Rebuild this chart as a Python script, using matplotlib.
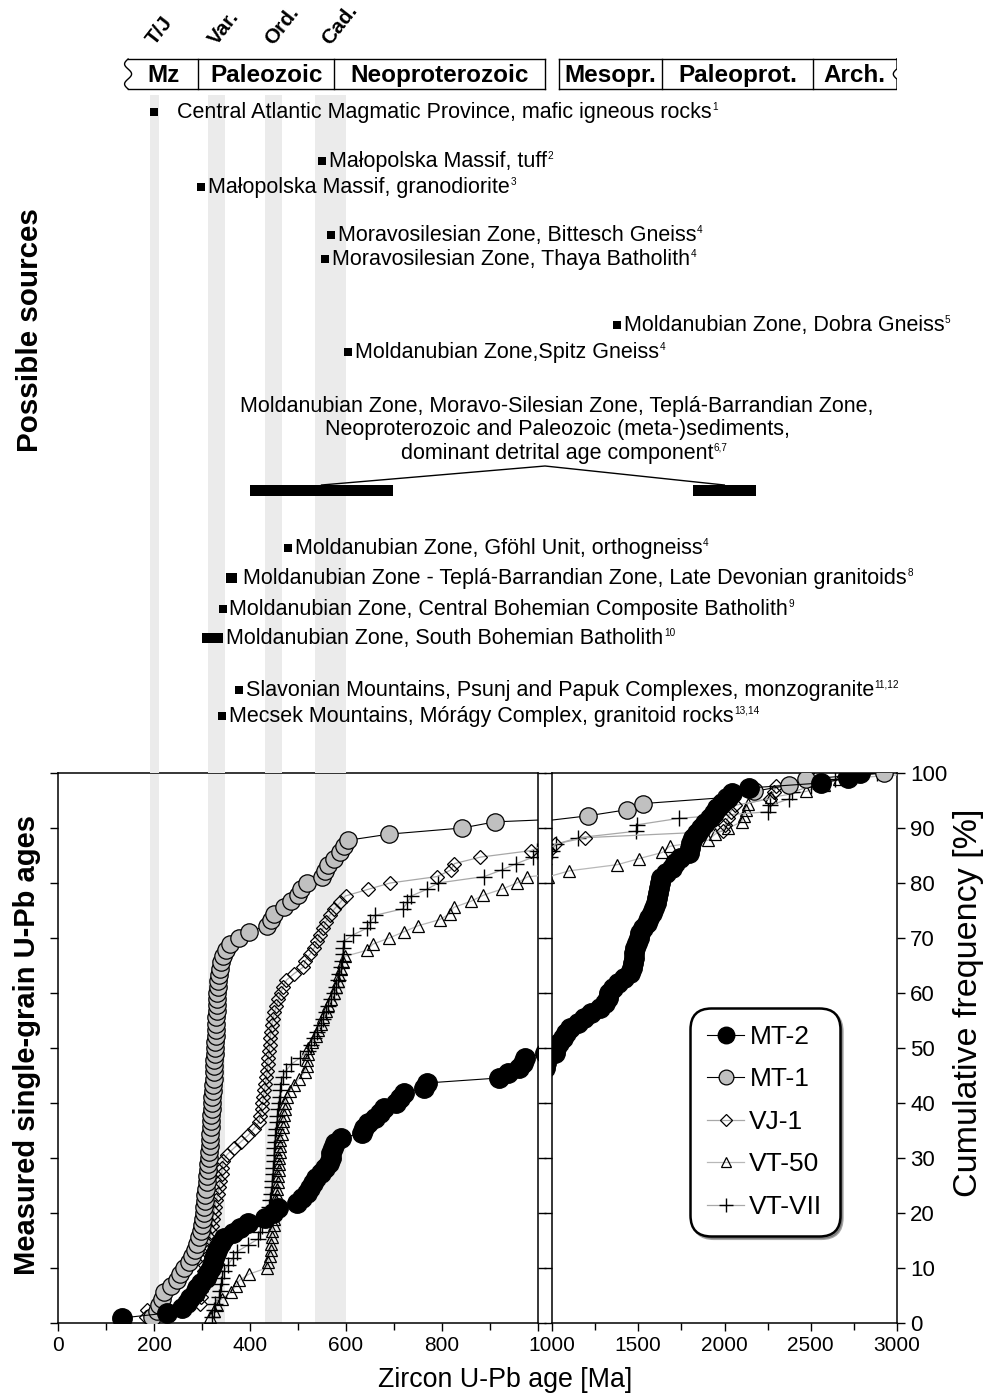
import numpy as np
import matplotlib.pyplot as plt
from matplotlib.ticker import MultipleLocator, FixedLocator

plt.rcParams['font.family'] = ['Liberation Sans', 'DejaVu Sans']

# ---------------- data ----------------
# single-grain zircon U-Pb ages [Ma], sorted
mt2_ages = [133, 228, 258, 268, 275, 285, 289, 298, 308, 313,
            319, 322, 325, 329, 334, 340, 346, 365, 380, 395,
            432, 447, 458, 497, 508, 518, 526, 532, 537, 547,
            556, 564, 568, 569, 572, 578, 590, 634, 638, 645,
            660, 670, 680, 705, 713, 720, 762, 768, 918, 938,
            960, 968, 973, 1015, 1025, 1040, 1062, 1082, 1104, 1150,
            1185, 1225, 1280, 1310, 1322, 1332, 1355, 1380, 1415, 1452,
            1463, 1469, 1473, 1477, 1481, 1490, 1502, 1510, 1530, 1549,
            1565, 1580, 1590, 1602, 1610, 1616, 1622, 1626, 1634, 1660,
            1698, 1715, 1740, 1792, 1800, 1808, 1820, 1840, 1862, 1887,
            1918, 1938, 1955, 1985, 2020, 2045, 2140, 2560, 2715, 2787]

mt1_ages = [195, 206, 211, 216, 221, 235, 247, 254, 263, 273,
            279, 285, 289, 294, 297, 300, 302, 304, 305, 306,
            307, 308, 310, 311, 312, 313, 314, 315, 316, 317,
            317, 318, 319, 319, 320, 321, 321, 322, 323, 324,
            324, 325, 326, 327, 327, 328, 329, 329, 330, 330,
            331, 331, 331, 332, 333, 334, 335, 337, 340, 344,
            350, 358, 378, 398, 435, 444, 449, 470, 485, 500,
            507, 518, 550, 556, 563, 575, 588, 596, 605, 690,
            842, 910, 1210, 1437, 1530, 2010, 2170, 2375, 2470, 2926]

vj1_ages = [183, 186, 296, 297, 298, 300, 302, 304, 306, 309,
            311, 313, 316, 319, 321, 323, 325, 327, 330, 333,
            335, 338, 341, 342, 344, 352, 366, 381, 396, 408,
            418, 421, 424, 426, 428, 430, 432, 434, 436, 437,
            438, 440, 441, 442, 443, 445, 448, 451, 455, 459,
            464, 469, 476, 492, 511, 515, 525, 534, 539, 545,
            552, 558, 566, 576, 588, 599, 645, 692, 790, 818,
            826, 880, 985, 1017, 1191, 1990, 2005, 2020, 2035, 2060,
            2262, 2285, 2300, 2465, 2480]

vt50_ages = [316, 325, 332, 341, 360, 370, 378, 398, 435, 438,
             441, 443, 444, 445, 446, 449, 451, 452, 454, 455,
             456, 457, 458, 459, 460, 461, 461, 462, 463, 463,
             466, 468, 469, 471, 472, 473, 478, 483, 492, 502,
             514, 518, 519, 520, 521, 530, 537, 542, 547, 553,
             558, 563, 568, 574, 580, 583, 586, 589, 593, 598,
             644, 656, 690, 720, 750, 795, 817, 824, 860, 886,
             925, 956, 978, 1101, 1379, 1506, 1640, 1682, 1906, 1945,
             2022, 2099, 2112, 2122, 2135, 2270, 2475, 2575, 2662, 3150]

vt7_ages = [320, 325, 328, 335, 338, 340, 342, 346, 354, 364,
            372, 395, 417, 420, 424, 430, 436, 440, 442, 443,
            445, 446, 447, 448, 449, 450, 451, 452, 453, 455,
            456, 457, 459, 460, 462, 463, 465, 468, 475, 486,
            505, 520, 527, 533, 539, 548, 553, 558, 563, 569,
            574, 580, 583, 586, 589, 592, 593, 594, 596, 615,
            643, 651, 660, 718, 728, 736, 768, 792, 888, 924,
            955, 990, 998, 1023, 1153, 1487, 1494, 1738, 2250, 2264,
            2375, 2390, 2500, 2643, 2883]

sample_names = ['MT-2', 'MT-1', 'VJ-1', 'VT-50', 'VT-VII']

# orogenic events (grey bands), Ma
band_labels = ['T/J', 'Var.', 'Ord.', 'Cad.']
band_start = [192, 312, 431, 535]
band_end = [210, 348, 467, 600]

# time scale header
era_edges_young = [146, 292, 575, 1000.5]
era_labels_young = ['Mz', 'Paleozoic', 'Neoproterozoic']
era_edges_old = [1040, 1638, 2513, 3000]
era_labels_old = ['Mesopr.', 'Paleoprot.', 'Arch.']

# possible source ages, Ma
source_labels = [
    'Central Atlantic Magmatic Province, mafic igneous rocks',
    'Małopolska Massif, tuff',
    'Małopolska Massif, granodiorite',
    'Moravosilesian Zone, Bittesch Gneiss',
    'Moravosilesian Zone, Thaya Batholith',
    'Moldanubian Zone, Dobra Gneiss',
    'Moldanubian Zone,Spitz Gneiss',
    'Moldanubian Zone, Gföhl Unit, orthogneiss',
    'Moldanubian Zone - Teplá-Barrandian Zone, Late Devonian granitoids',
    'Moldanubian Zone, Central Bohemian Composite Batholith',
    'Moldanubian Zone, South Bohemian Batholith',
    'Slavonian Mountains, Psunj and Papuk Complexes, monzogranite',
    'Mecsek Mountains, Mórágy Complex, granitoid rocks',
]
source_refs = ['1', '2', '3', '4', '4', '5', '4', '4', '8', '9', '10', '11,12', '13,14']
source_min = [201, 550, 298, 569, 556, 1377, 604, 479, 349, 343, 301, 377, 342]
source_max = [201, 550, 298, 569, 556, 1377, 604, 479, 373, 343, 343, 377, 342]

detrital_lines = ['Moldanubian Zone, Moravo-Silesian Zone, Teplá-Barrandian Zone,',
                  'Neoproterozoic and Paleozoic (meta-)sediments,',
                  'dominant detrital age component']
detrital_ref = '6,7'
detrital_min = [400, 1817]
detrital_max = [698, 2183]

# ---------------- layout ----------------
W, H = 984, 1393
source_row = [112, 161, 187, 235, 259, 325, 352, 548, 578, 609, 638, 690, 716]
source_gap = [20, 4, 4, 4, 4, 4, 4, 4, 3, 4, 1, 4, 4]
detrital_rows = [412, 435, 459]
detrital_bar_row = 490
TXT = 15.5
SUP = 7.2


def px_box(x0, x1, y0, y1):
    return [x0 / W, 1 - y1 / H, (x1 - x0) / W, (y1 - y0) / H]


fig = plt.figure(figsize=(W / 100, H / 100), dpi=100)
ax_l = fig.add_axes(px_box(58, 538, 773, 1323))
ax_r = fig.add_axes(px_box(552, 897, 773, 1323))
ax_t = fig.add_axes(px_box(58, 897, 0, 773))

# broken age axis for the header: 0-1000 Ma on the left panel, 1000-3000 Ma on the right
AGE_KNOTS = [0, 1000, 1001, 3001]
PX_KNOTS = [0, 480, 494, 839]


def fwd(a):
    return np.interp(a, AGE_KNOTS, PX_KNOTS)


def inv(u):
    return np.interp(u, PX_KNOTS, AGE_KNOTS)


ax_t.set_xscale('function', functions=(fwd, inv))
ax_t.set_xlim(0, 3001)
ax_t.set_ylim(773, 0)
ax_t.axis('off')

band_color = '#ebebeb'
for s, e, lab in zip(band_start, band_end, band_labels):
    ax_t.fill_betweenx([95, 773], s, e, color=band_color, lw=0, zorder=0)
    ax_l.axvspan(s, e, color=band_color, lw=0, zorder=0)
    ax_t.text((s + e) / 2, 46, lab, rotation=52, rotation_mode='anchor',
              ha='left', va='baseline', fontsize=15, fontweight='bold')

# time scale boxes
for edges, labels, wavy_left in [(era_edges_young, era_labels_young, True),
                                 (era_edges_old, era_labels_old, False)]:
    ax_t.plot([edges[0], edges[-1]], [59, 59], color='k', lw=1)
    ax_t.plot([edges[0], edges[-1]], [89, 89], color='k', lw=1)
    for e in edges[1:-1]:
        ax_t.plot([e, e], [59, 89], color='k', lw=1)
    yy = np.linspace(59, 89, 80)
    if wavy_left:
        ax_t.plot([edges[-1], edges[-1]], [59, 89], color='k', lw=1)
        amp = 3.5 / 0.48
        ax_t.plot(edges[0] - amp * np.sin(np.linspace(0, 3 * np.pi, 80)), yy, color='k', lw=1)
    else:
        ax_t.plot([edges[0], edges[0]], [59, 89], color='k', lw=1)
        amp = 3.5 / 0.1725
        ax_t.plot(edges[-1] + amp * np.sin(np.linspace(0, 3 * np.pi, 80)), yy, color='k', lw=1)
    for a, b, lab in zip(edges[:-1], edges[1:], labels):
        mid = inv((fwd(a) + fwd(b)) / 2)
        ax_t.text(mid, 82, lab, ha='center', va='baseline', fontsize=17.5, fontweight='bold')

# possible sources
for lab, ref, lo, hi, row, gap in zip(source_labels, source_refs, source_min, source_max,
                                      source_row, source_gap):
    if lo == hi:
        ax_t.plot(lo, row, marker='s', color='k', ms=5.5, mew=0)
    else:
        ax_t.barh(row, hi - lo, left=lo, height=10, color='k')
    t = ax_t.annotate(lab, xy=(hi, row), xytext=(gap * 0.72 + 2, -4.5),
                      textcoords='offset points', ha='left', va='baseline', fontsize=TXT)
    ax_t.annotate(ref, xy=(1, 1), xycoords=t, xytext=(0.5, 0.5), textcoords='offset points',
                  ha='left', va='top', fontsize=SUP)

# detrital age component
for lo, hi in zip(detrital_min, detrital_max):
    ax_t.barh(detrital_bar_row, hi - lo, left=lo, height=11, color='k')
mids = [(lo + hi) / 2 for lo, hi in zip(detrital_min, detrital_max)]
ax_t.plot([mids[0], 1000.5, mids[1]], [detrital_bar_row - 5, 466, detrital_bar_row - 5],
          color='k', lw=1)
for line, row in zip(detrital_lines, detrital_rows):
    t = ax_t.text(1030, row, line, ha='center', va='baseline', fontsize=TXT)
ax_t.annotate(detrital_ref, xy=(1, 1), xycoords=t, xytext=(0.5, 0.5),
              textcoords='offset points', ha='left', va='top', fontsize=SUP)

# ---------------- cumulative curves ----------------
styles = [
    dict(marker='o', ms=14, mfc='black', mec='black', color='black', lw=0.8, zorder=6),
    dict(marker='o', ms=12.5, mfc='#c0c0c0', mec='black', mew=0.9, color='black', lw=0.8, zorder=5),
    dict(marker='D', ms=7.5, mfc='none', mec='black', mew=0.9, color='#a8a8a8', lw=0.9, zorder=4),
    dict(marker='^', ms=9, mfc='none', mec='black', mew=0.9, color='#b8b8b8', lw=0.9, zorder=3),
    dict(marker='+', ms=12, mec='black', mew=1.0, color='#a8a8a8', lw=0.9, zorder=3),
]
all_ages = [mt2_ages, mt1_ages, vj1_ages, vt50_ages, vt7_ages]
handles = []
for ages, name, st in zip(all_ages, sample_names, styles):
    cum = np.arange(1, len(ages) + 1) / len(ages) * 100
    for ax in (ax_l, ax_r):
        ln, = ax.plot(ages, cum, label=name, **st)
    handles.append(ln)

for ax in (ax_l, ax_r):
    ax.set_ylim(0, 100)
    ax.yaxis.set_major_locator(MultipleLocator(10))
    ax.tick_params(axis='both', which='both', direction='out', width=1)
    ax.tick_params(axis='x', labelsize=15)
    ax.tick_params(which='major', length=6)
    ax.tick_params(which='minor', length=5)
    ax.tick_params(axis='y', left=True, right=True, labelsize=16)
    for sp in ax.spines.values():
        sp.set_linewidth(1.1)

ax_l.set_xlim(0, 1000)
ax_l.xaxis.set_major_locator(FixedLocator([0, 200, 400, 600, 800, 1000]))
ax_l.set_xticklabels(['0', '200', '400', '600', '800', ''])
ax_l.xaxis.set_minor_locator(MultipleLocator(100))
ax_l.tick_params(axis='y', labelleft=False, labelright=False)

ax_r.set_xlim(1000, 3000)
ax_r.xaxis.set_major_locator(MultipleLocator(500))
ax_r.xaxis.set_minor_locator(MultipleLocator(250))
ax_r.tick_params(axis='y', labelleft=False, labelright=True)

leg = ax_r.legend(handles=handles, loc='upper left', bbox_to_anchor=(0.40, 0.573),
                  borderaxespad=0, fontsize=19, frameon=True, fancybox=True, shadow=True,
                  framealpha=1, edgecolor='black', handlelength=1.4, handletextpad=0.2,
                  labelspacing=0.7, markerscale=0.85, borderpad=0.65)
leg.get_frame().set_linewidth(1.8)
leg.get_frame().set_boxstyle('round,pad=0,rounding_size=0.8')

# ---------------- labels ----------------
fig.text(505 / W, 1 - 1380 / H, 'Zircon U-Pb age [Ma]', ha='center', va='center', fontsize=19.3)
fig.text(968 / W, 1 - 1003 / H, 'Cumulative frequency [%]', rotation=90,
         ha='center', va='center', fontsize=24.5)
fig.text(27 / W, 1 - 1045 / H, 'Measured single-grain U-Pb ages', rotation=90,
         ha='center', va='center', fontsize=21, fontweight='bold')
fig.text(30 / W, 1 - 330 / H, 'Possible sources', rotation=90,
         ha='center', va='center', fontsize=21.3, fontweight='bold')

fig.savefig('out.png', dpi=100)
